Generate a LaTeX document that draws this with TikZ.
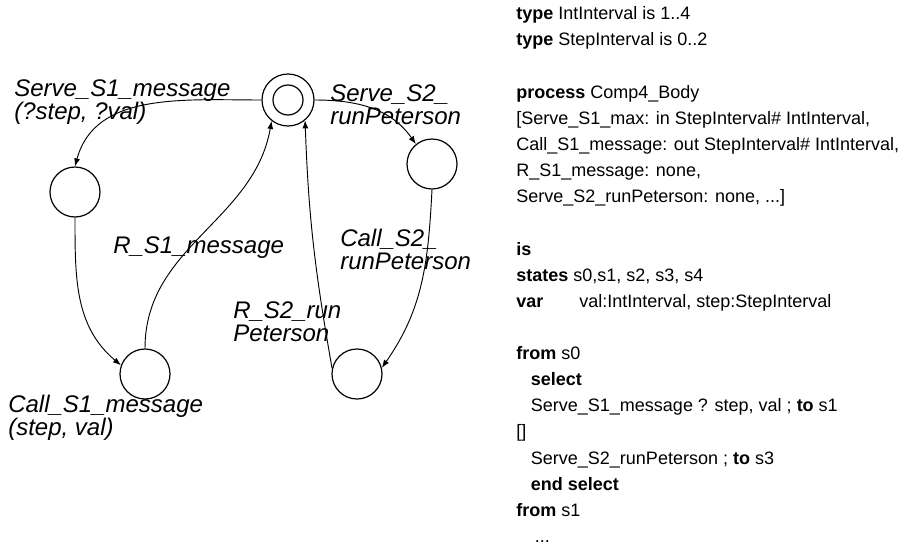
\documentclass[tikz,border=0pt]{standalone}
\usepackage{fontspec}
\setmainfont{Liberation Sans}
\usetikzlibrary{arrows.meta}

\begin{document}
\begin{tikzpicture}[x=0.75pt, y=-0.75pt, inner sep=0pt, >={Latex[length=6pt, width=4.5pt]},
   st/.style={circle, draw, line width=0.9pt, minimum size=37.5pt},
   lbl/.style={anchor=base west, align=left, font=\fontsize{18}{17.25}\selectfont\itshape},
   code/.style={anchor=base west, align=left, font=\fontsize{13.5}{19.6}\selectfont},
   trans/.style={->, line width=0.7pt}
   ]
   \useasboundingbox (0,0) rectangle (907,550);

   % states
   \path (288,100) node[st, minimum size=39pt] (s0) {}
   (75,192) node[st] (s1) {}
   (145,374) node[st] (s2) {}
   (432,164) node[st] (s3) {}
   (357,374) node[st] (s4) {};
   \draw[line width=0.9pt] (s0.center) circle (15);

   % transitions
   \draw[trans] (s0.west) to[out=180, in=75] (s1.north);
   \draw[trans] (s1.south) to[out=-90, in=140] (s2.160);
   \draw[trans] (s2.north) to[out=90, in=-100] (s0.-128);
   \draw[trans] (s0.east) to[out=0, in=125] (s3.129);
   \draw[trans] (s3.south) to[out=-93, in=55] (s4.14);
   \draw[trans] (s4.167) to[out=100, in=-88] (s0.-50);

   % labels (base = last line)
   \path (14,119) node[lbl] (l1) {Serve\_S1\_message\\(?step, ?val)}
   (8,435) node[lbl] (l2) {Call\_S1\_message\\(step, val)}
   (113,253) node[lbl] (l3) {R\_S1\_message}
   (233,341) node[lbl] (l4) {R\_S2\_run\\Peterson}
   (330,124) node[lbl] (l5) {Serve\_S2\_\\runPeterson}
   (340,269) node[lbl] (l6) {Call\_S2\_\\runPeterson};

   % process text
   \path (516,542.5) node[code] (txt) {\textbf{type} IntInterval is 1..4\\
   \textbf{type} StepInterval is 0..2\\
   \mbox{}\\
   \textbf{process} Comp4\_Body\\
   {[}Serve\_S1\_max: in StepInterval\# IntInterval,\\
   Call\_S1\_message: out StepInterval\# IntInterval,\\
   R\_S1\_message: none,\\
   Serve\_S2\_runPeterson: none, ...{]}\\
   \mbox{}\\
   \textbf{is}\\
   \textbf{states} s0,s1, s2, s3, s4\\
   \makebox[47.25pt][l]{\textbf{var}}val:IntInterval, step:StepInterval\\
   \mbox{}\\
   \textbf{from} s0\\
   \hspace*{11pt}\textbf{select}\\
   \hspace*{11pt}Serve\_S1\_message ? step, val ; \textbf{to} s1\\
   {[]}\\
   \hspace*{11pt}Serve\_S2\_runPeterson ; \textbf{to} s3\\
   \hspace*{11pt}\textbf{end select}\\
   \textbf{from} s1\\
   \hspace*{14pt}...};
\end{tikzpicture}
\end{document}
